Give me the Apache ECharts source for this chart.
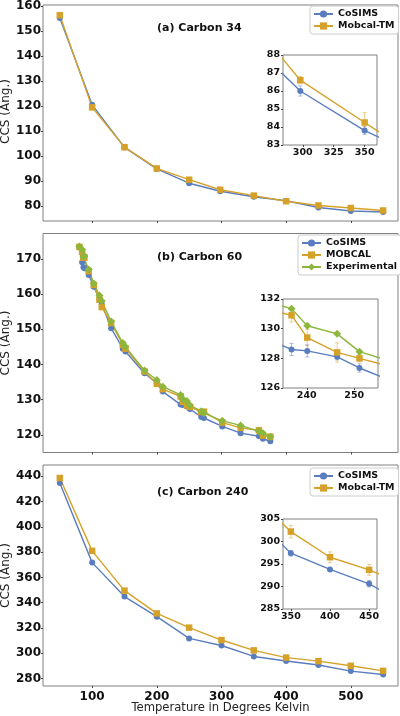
<!DOCTYPE html>
<html><head><meta charset="utf-8">
<script src="https://cdn.jsdelivr.net/npm/echarts@6/dist/echarts.min.js"></script>
<style>html,body{margin:0;padding:0;background:#fff}#c{width:400px;height:716px}</style>
</head><body><div id="c"></div>
<script>
// ---------- Data: (a) Carbon 34 ----------
const tempA = [50, 100, 150, 200, 250, 298, 350, 400, 450, 500, 550];
const cosimsA = [155.2, 120.5, 103.5, 94.9, 89.2, 86.0, 83.8, 82.2, 79.5, 78.1, 77.7];
const mobcalA = [156.3, 119.5, 103.6, 95.1, 90.6, 86.6, 84.25, 82.0, 80.3, 79.3, 78.3];
const errCosimsA = [0.3, 0.3, 0.3, 0.3, 0.3, 0.28, 0.22, 0.3, 0.3, 0.3, 0.3];
const errMobcalA = [0.3, 0.3, 0.3, 0.3, 0.3, 0.2, 0.55, 0.3, 0.3, 0.3, 0.3];

// ---------- Data: (b) Carbon 60 ----------
const tempB = [80.3, 84.5, 86.5, 88.1, 94.7, 102.5, 111.3, 114.9, 129.4, 147.4, 151.5, 181.0, 200.0, 209.3, 236.8, 240.1, 246.4, 251.1, 268.7, 272.8, 301.2, 329.6, 357.9, 364.1, 375.5];
const cosimsB = [173.3, 169.0, 167.6, 167.3, 165.4, 162.1, 158.6, 157.2, 150.3, 144.5, 143.7, 137.5, 134.7, 132.3, 128.6, 128.5, 128.1, 127.35, 125.1, 124.8, 122.4, 120.5, 119.6, 118.9, 118.2];
const mobcalB = [173.4, 172.0, 170.3, 170.4, 166.5, 162.6, 158.4, 156.3, 151.8, 145.6, 144.5, 138.0, 134.5, 133.0, 130.9, 129.4, 128.4, 128.0, 126.5, 126.6, 123.5, 122.0, 121.3, 119.8, 119.5];
const expB = [173.5, 172.6, 170.6, 170.8, 167.0, 163.0, 159.6, 158.0, 152.2, 146.1, 145.0, 138.3, 135.6, 133.7, 131.35, 130.2, 129.65, 128.45, 126.7, 126.2, 124.0, 122.7, 121.0, 120.5, 119.5];
const errCosimsB = [0.3, 0.3, 0.3, 0.3, 0.3, 0.3, 0.3, 0.3, 0.3, 0.3, 0.3, 0.3, 0.3, 0.3, 0.41, 0.41, 0.2, 0.28, 0.3, 0.3, 0.3, 0.3, 0.3, 0.3, 0.3];
const errMobcalB = [0.4, 0.4, 0.4, 0.4, 0.4, 0.4, 0.4, 0.4, 0.4, 0.4, 0.4, 0.4, 0.4, 0.4, 0.45, 0.55, 0.65, 0.25, 0.4, 0.4, 0.4, 0.4, 0.4, 0.4, 0.4];

// ---------- Data: (c) Carbon 240 ----------
const tempC = [50, 100, 150, 200, 250, 300, 350, 400, 450, 500, 550];
const cosimsC = [434.7, 371.7, 344.8, 328.9, 311.7, 306.1, 297.4, 293.8, 290.6, 285.8, 283.1];
const mobcalC = [438.7, 381.0, 349.5, 331.5, 320.2, 310.4, 302.2, 296.5, 293.7, 290.0, 286.0];
const errCosimsC = [0.8, 0.8, 0.7, 0.6, 0.6, 0.6, 0.6, 0.4, 0.7, 0.6, 0.6];
const errMobcalC = [1.2, 1.2, 1.2, 1.2, 1.2, 1.2, 1.4, 1.2, 1.2, 1.2, 1.2];

// ---------- Tick labels ----------
const xTicks = [100, 200, 300, 400, 500];
const yTicksA = [80, 90, 100, 110, 120, 130, 140, 150, 160];
const yTicksB = [120, 130, 140, 150, 160, 170];
const yTicksC = [280, 300, 320, 340, 360, 380, 400, 420, 440];
const insetXTicksA = [300, 325, 350];
const insetYTicksA = [83, 84, 85, 86, 87, 88];
const insetXTicksB = [240, 250];
const insetYTicksB = [126, 128, 130, 132];
const insetXTicksC = [350, 400, 450];
const insetYTicksC = [285, 290, 295, 300, 305];

// ---------- Texts ----------
const titles = ['(a) Carbon 34', '(b) Carbon 60', '(c) Carbon 240'];
const yName = 'CCS (Ang.)';
const xName = 'Temperature in Degrees Kelvin';

// ---------- Styles ----------
const BLUE = '#5a7dbf', ORANGE = '#d6a129', GREEN = '#8cb63c';
const FONT = 'DejaVu Sans';
const FRAME = '#808080';

const pairs = (xs, ys) => xs.map((x, i) => [x, ys[i]]);

const gridBoxes = [
  {left: 43, top: 2, width: 355, height: 219},
  {left: 43, top: 233.5, width: 355, height: 219},
  {left: 43, top: 465, width: 355, height: 221},
  {left: 283, top: 55, width: 94, height: 90, backgroundColor: '#fff'},
  {left: 283, top: 299, width: 95, height: 89, backgroundColor: '#fff'},
  {left: 283, top: 519, width: 94, height: 90, backgroundColor: '#fff'}
];
const grids = gridBoxes.map(g => Object.assign({show: true, borderColor: FRAME, borderWidth: 1, containLabel: false}, g));

function axis(gi, min, max, ticks, showLabel, fs, margin, extra) {
  return Object.assign({
    type: 'value', gridIndex: gi, min, max,
    axisLine: {show: false}, splitLine: {show: false},
    axisTick: {show: true, length: 2, customValues: ticks, lineStyle: {color: '#444'}},
    axisLabel: {show: showLabel, customValues: ticks, fontSize: fs, fontWeight: 'bold', color: '#111', margin: margin, fontFamily: FONT}
  }, extra || {});
}

const xAxes = [
  axis(0, 24, 573, xTicks, false, 12, 5),
  axis(1, 24, 573, xTicks, false, 12, 5),
  axis(2, 24, 573, xTicks, true, 12, 5),
  axis(3, 284, 360, insetXTicksA, true, 9.5, 3),
  axis(4, 235, 255, insetXTicksB, true, 9.5, 3),
  axis(5, 340, 460, insetXTicksC, true, 9.5, 3)
];
const yAxes = [
  axis(0, 74.1, 160.4, yTicksA, true, 12, 2),
  axis(1, 115.0, 177.2, yTicksB, true, 12, 2),
  axis(2, 274, 449, yTicksC, true, 12, 2),
  axis(3, 83, 88, insetYTicksA, true, 9.5, 3),
  axis(4, 126, 132, insetYTicksB, true, 9.5, 3),
  axis(5, 285, 305, insetYTicksC, true, 9.5, 3)
];

function lineSeries(name, idx, xs, ys, color, symbol, size) {
  return {
    type: 'line', name, xAxisIndex: idx, yAxisIndex: idx, data: pairs(xs, ys),
    symbol, symbolSize: size, showSymbol: true, clip: true, animation: false,
    lineStyle: {color, width: 1.4}, itemStyle: {color, borderWidth: 0},
    emphasis: {disabled: true}, z: 3
  };
}

function errSeries(idx, xs, ys, errs, color, xmin, xmax) {
  const data = [];
  xs.forEach((x, i) => { if (x >= xmin && x <= xmax) data.push([x, ys[i] - errs[i], ys[i] + errs[i]]); });
  return {
    type: 'custom', xAxisIndex: idx, yAxisIndex: idx, data, z: 2, silent: true, animation: false,
    encode: {x: 0, y: [1, 2]},
    renderItem(params, api) {
      const x = api.value(0);
      const lo = api.coord([x, api.value(1)]);
      const hi = api.coord([x, api.value(2)]);
      const w = 2;
      const st = {stroke: color, lineWidth: 1, opacity: 0.5};
      return {type: 'group', children: [
        {type: 'line', shape: {x1: lo[0], y1: lo[1], x2: hi[0], y2: hi[1]}, style: st},
        {type: 'line', shape: {x1: lo[0] - w, y1: lo[1], x2: lo[0] + w, y2: lo[1]}, style: st},
        {type: 'line', shape: {x1: hi[0] - w, y1: hi[1], x2: hi[0] + w, y2: hi[1]}, style: st}
      ]};
    }
  };
}

const series = [];
// main panels
series.push(lineSeries('CoSIMS', 0, tempA, cosimsA, BLUE, 'circle', 6));
series.push(lineSeries('Mobcal-TM', 0, tempA, mobcalA, ORANGE, 'rect', 6.5));
series.push(lineSeries('CoSIMS', 1, tempB, cosimsB, BLUE, 'circle', 6));
series.push(lineSeries('MOBCAL', 1, tempB, mobcalB, ORANGE, 'rect', 6.5));
series.push(lineSeries('Experimental', 1, tempB, expB, GREEN, 'diamond', 8));
series.push(lineSeries('CoSIMS', 2, tempC, cosimsC, BLUE, 'circle', 6));
series.push(lineSeries('Mobcal-TM', 2, tempC, mobcalC, ORANGE, 'rect', 6.5));
// insets
series.push(errSeries(3, tempA, cosimsA, errCosimsA, BLUE, 284, 360));
series.push(errSeries(3, tempA, mobcalA, errMobcalA, ORANGE, 284, 360));
series.push(lineSeries('CoSIMS', 3, tempA, cosimsA, BLUE, 'circle', 6));
series.push(lineSeries('Mobcal-TM', 3, tempA, mobcalA, ORANGE, 'rect', 6.5));
series.push(errSeries(4, tempB, cosimsB, errCosimsB, BLUE, 235, 255));
series.push(errSeries(4, tempB, mobcalB, errMobcalB, ORANGE, 235, 255));
series.push(lineSeries('CoSIMS', 4, tempB, cosimsB, BLUE, 'circle', 6));
series.push(lineSeries('MOBCAL', 4, tempB, mobcalB, ORANGE, 'rect', 6.5));
series.push(lineSeries('Experimental', 4, tempB, expB, GREEN, 'diamond', 8));
series.push(errSeries(5, tempC, cosimsC, errCosimsC, BLUE, 340, 460));
series.push(errSeries(5, tempC, mobcalC, errMobcalC, ORANGE, 340, 460));
series.push(lineSeries('CoSIMS', 5, tempC, cosimsC, BLUE, 'circle', 6));
series.push(lineSeries('Mobcal-TM', 5, tempC, mobcalC, ORANGE, 'rect', 6.5));

function legend(left, top, names) {
  return {
    left, top, orient: 'vertical', data: names, selectedMode: false,
    itemWidth: 19, itemHeight: 9, itemGap: 2, padding: [3, 4, 3, 3],
    borderColor: '#cccccc', borderWidth: 1, borderRadius: 3, backgroundColor: '#fff',
    textStyle: {fontSize: 9.5, fontWeight: 'bold', color: '#111', fontFamily: FONT}
  };
}

const titlePos = [[157, 28], [157, 257.5], [157, 492]];
const graphic = titles.map((t, i) => ({
  type: 'text', x: titlePos[i][0], y: titlePos[i][1], z: 10,
  style: {text: t, font: 'bold 11px "DejaVu Sans"', fill: '#111', align: 'left', verticalAlign: 'middle'}
}));
// y-axis names, centred on each main panel
for (let i = 0; i < 3; i++) {
  const g = gridBoxes[i];
  graphic.push({
    type: 'text', x: 6, y: g.top + g.height / 2, rotation: Math.PI / 2, z: 10,
    style: {text: yName, font: '12px "DejaVu Sans"', fill: '#222', align: 'center', verticalAlign: 'middle'}
  });
}
graphic.push({
  type: 'text', x: gridBoxes[2].left + gridBoxes[2].width / 2, y: 708, z: 10,
  style: {text: xName, font: '11.6px "DejaVu Sans"', fill: '#222', align: 'center', verticalAlign: 'middle'}
});

const chart = echarts.init(document.getElementById('c'), null, {renderer: 'canvas'});
chart.setOption({
  animation: false,
  backgroundColor: '#fff',
  textStyle: {fontFamily: FONT},
  grid: grids,
  xAxis: xAxes,
  yAxis: yAxes,
  legend: [
    legend(310, 6, ['CoSIMS', 'Mobcal-TM']),
    legend(298, 235, ['CoSIMS', 'MOBCAL', 'Experimental']),
    legend(310, 468, ['CoSIMS', 'Mobcal-TM'])
  ],
  graphic,
  series
});
</script></body></html>
